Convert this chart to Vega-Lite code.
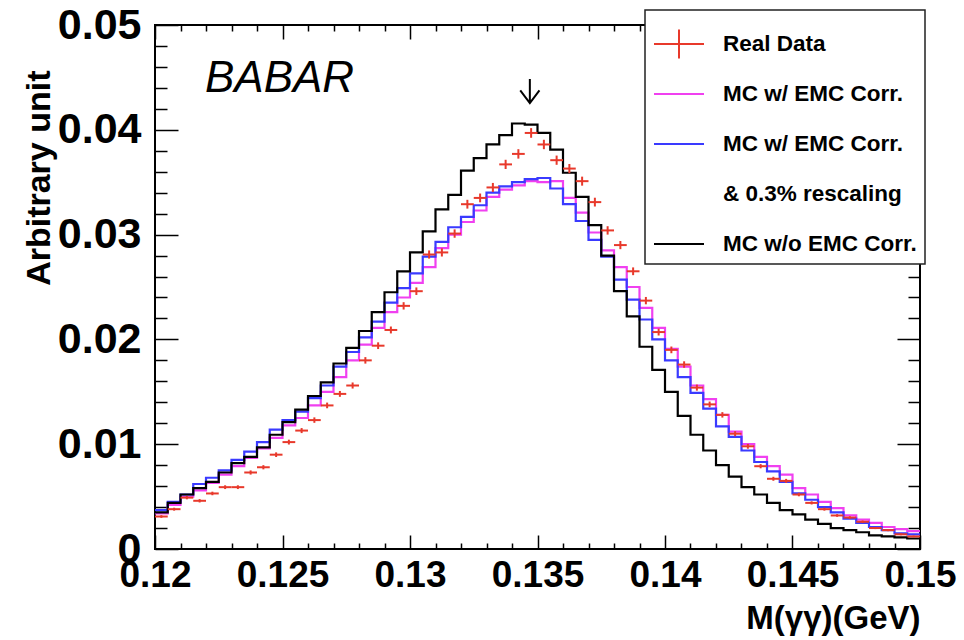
{
  "$schema": "https://vega.github.io/schema/vega-lite/v6.json",
  "width": 765,
  "height": 524,
  "autosize": {"type": "none"},
  "padding": {"left": 155, "top": 25, "right": 44, "bottom": 91},
  "background": "white",
  "data": {"values": [
    {"x0":0.12,"x1":0.1205,"xc":0.12025,"data":0.0031,"err":0.00013,"pink":0.0034,"blue":0.0037,"black":0.0035},
    {"x0":0.1205,"x1":0.121,"xc":0.12075,"data":0.0038,"err":0.00014,"pink":0.0042,"blue":0.0045,"black":0.0044},
    {"x0":0.121,"x1":0.1215,"xc":0.12125,"data":0.0049,"err":0.00016,"pink":0.0050,"blue":0.0052,"black":0.0052},
    {"x0":0.1215,"x1":0.122,"xc":0.12175,"data":0.0046,"err":0.00016,"pink":0.0056,"blue":0.0062,"black":0.0058},
    {"x0":0.122,"x1":0.1225,"xc":0.12225,"data":0.0053,"err":0.00017,"pink":0.0063,"blue":0.0068,"black":0.0064},
    {"x0":0.1225,"x1":0.123,"xc":0.12275,"data":0.0059,"err":0.00018,"pink":0.0071,"blue":0.0075,"black":0.0073},
    {"x0":0.123,"x1":0.1235,"xc":0.12325,"data":0.0059,"err":0.00018,"pink":0.0079,"blue":0.0085,"black":0.0082},
    {"x0":0.1235,"x1":0.124,"xc":0.12375,"data":0.0073,"err":0.0002,"pink":0.0087,"blue":0.0093,"black":0.0088},
    {"x0":0.124,"x1":0.1245,"xc":0.12425,"data":0.0078,"err":0.0002,"pink":0.0096,"blue":0.0102,"black":0.0097},
    {"x0":0.1245,"x1":0.125,"xc":0.12475,"data":0.0090,"err":0.00022,"pink":0.0106,"blue":0.0114,"black":0.0109},
    {"x0":0.125,"x1":0.1255,"xc":0.12525,"data":0.0102,"err":0.00023,"pink":0.0118,"blue":0.0123,"black":0.0121},
    {"x0":0.1255,"x1":0.126,"xc":0.12575,"data":0.0113,"err":0.00024,"pink":0.0125,"blue":0.0131,"black":0.0133},
    {"x0":0.126,"x1":0.1265,"xc":0.12625,"data":0.0123,"err":0.00026,"pink":0.0137,"blue":0.0144,"black":0.0146},
    {"x0":0.1265,"x1":0.127,"xc":0.12675,"data":0.0137,"err":0.00027,"pink":0.0150,"blue":0.0156,"black":0.0159},
    {"x0":0.127,"x1":0.1275,"xc":0.12725,"data":0.0148,"err":0.00028,"pink":0.0164,"blue":0.0174,"black":0.0177},
    {"x0":0.1275,"x1":0.128,"xc":0.12775,"data":0.0156,"err":0.00029,"pink":0.0180,"blue":0.0188,"black":0.0192},
    {"x0":0.128,"x1":0.1285,"xc":0.12825,"data":0.0180,"err":0.00031,"pink":0.0195,"blue":0.0202,"black":0.0208},
    {"x0":0.1285,"x1":0.129,"xc":0.12875,"data":0.0194,"err":0.00032,"pink":0.0211,"blue":0.0217,"black":0.0226},
    {"x0":0.129,"x1":0.1295,"xc":0.12925,"data":0.0209,"err":0.00033,"pink":0.0226,"blue":0.0235,"black":0.0245},
    {"x0":0.1295,"x1":0.13,"xc":0.12975,"data":0.0232,"err":0.00035,"pink":0.0240,"blue":0.0249,"black":0.0265},
    {"x0":0.13,"x1":0.1305,"xc":0.13025,"data":0.0246,"err":0.00036,"pink":0.0254,"blue":0.0263,"black":0.0283},
    {"x0":0.1305,"x1":0.131,"xc":0.13075,"data":0.0281,"err":0.00039,"pink":0.0269,"blue":0.0279,"black":0.0303},
    {"x0":0.131,"x1":0.1315,"xc":0.13125,"data":0.0283,"err":0.00039,"pink":0.0287,"blue":0.0293,"black":0.0324},
    {"x0":0.1315,"x1":0.132,"xc":0.13175,"data":0.0301,"err":0.0004,"pink":0.0300,"blue":0.0307,"black":0.0338},
    {"x0":0.132,"x1":0.1325,"xc":0.13225,"data":0.0329,"err":0.00042,"pink":0.0312,"blue":0.0317,"black":0.0361},
    {"x0":0.1325,"x1":0.133,"xc":0.13275,"data":0.0335,"err":0.00042,"pink":0.0323,"blue":0.0328,"black":0.0373},
    {"x0":0.133,"x1":0.1335,"xc":0.13325,"data":0.0345,"err":0.00043,"pink":0.0336,"blue":0.0340,"black":0.0386},
    {"x0":0.1335,"x1":0.134,"xc":0.13375,"data":0.0367,"err":0.00044,"pink":0.0343,"blue":0.0346,"black":0.0395},
    {"x0":0.134,"x1":0.1345,"xc":0.13425,"data":0.0377,"err":0.00045,"pink":0.0347,"blue":0.0350,"black":0.0406},
    {"x0":0.1345,"x1":0.135,"xc":0.13475,"data":0.0397,"err":0.00046,"pink":0.0351,"blue":0.0353,"black":0.0405},
    {"x0":0.135,"x1":0.1355,"xc":0.13525,"data":0.0386,"err":0.00045,"pink":0.0350,"blue":0.0354,"black":0.0397},
    {"x0":0.1355,"x1":0.136,"xc":0.13575,"data":0.0371,"err":0.00044,"pink":0.0351,"blue":0.0344,"black":0.0381},
    {"x0":0.136,"x1":0.1365,"xc":0.13625,"data":0.0363,"err":0.00044,"pink":0.0335,"blue":0.0329,"black":0.0359},
    {"x0":0.1365,"x1":0.137,"xc":0.13675,"data":0.0351,"err":0.00043,"pink":0.0321,"blue":0.0313,"black":0.0336},
    {"x0":0.137,"x1":0.1375,"xc":0.13725,"data":0.0331,"err":0.00042,"pink":0.0302,"blue":0.0295,"black":0.0309},
    {"x0":0.1375,"x1":0.138,"xc":0.13775,"data":0.0304,"err":0.0004,"pink":0.0285,"blue":0.0279,"black":0.0280},
    {"x0":0.138,"x1":0.1385,"xc":0.13825,"data":0.0290,"err":0.00039,"pink":0.0269,"blue":0.0257,"black":0.0246},
    {"x0":0.1385,"x1":0.139,"xc":0.13875,"data":0.0265,"err":0.00037,"pink":0.0250,"blue":0.0238,"black":0.0222},
    {"x0":0.139,"x1":0.1395,"xc":0.13925,"data":0.0237,"err":0.00035,"pink":0.0230,"blue":0.0219,"black":0.0193},
    {"x0":0.1395,"x1":0.14,"xc":0.13975,"data":0.0207,"err":0.00033,"pink":0.0211,"blue":0.0200,"black":0.0171},
    {"x0":0.14,"x1":0.1405,"xc":0.14025,"data":0.0190,"err":0.00032,"pink":0.0191,"blue":0.0180,"black":0.0150},
    {"x0":0.1405,"x1":0.141,"xc":0.14075,"data":0.0176,"err":0.00031,"pink":0.0174,"blue":0.0164,"black":0.0127},
    {"x0":0.141,"x1":0.1415,"xc":0.14125,"data":0.0154,"err":0.00029,"pink":0.0156,"blue":0.0149,"black":0.0109},
    {"x0":0.1415,"x1":0.142,"xc":0.14175,"data":0.0138,"err":0.00027,"pink":0.0143,"blue":0.0134,"black":0.0094},
    {"x0":0.142,"x1":0.1425,"xc":0.14225,"data":0.0128,"err":0.00026,"pink":0.0128,"blue":0.0117,"black":0.0080},
    {"x0":0.1425,"x1":0.143,"xc":0.14275,"data":0.0110,"err":0.00024,"pink":0.0112,"blue":0.0107,"black":0.0069},
    {"x0":0.143,"x1":0.1435,"xc":0.14325,"data":0.0098,"err":0.00023,"pink":0.0100,"blue":0.0094,"black":0.0059},
    {"x0":0.1435,"x1":0.144,"xc":0.14375,"data":0.0079,"err":0.0002,"pink":0.0088,"blue":0.0083,"black":0.0052},
    {"x0":0.144,"x1":0.1445,"xc":0.14425,"data":0.0067,"err":0.00019,"pink":0.0079,"blue":0.0074,"black":0.0044},
    {"x0":0.1445,"x1":0.145,"xc":0.14475,"data":0.0065,"err":0.00019,"pink":0.0071,"blue":0.0064,"black":0.0037},
    {"x0":0.145,"x1":0.1455,"xc":0.14525,"data":0.0052,"err":0.00017,"pink":0.0058,"blue":0.0053,"black":0.0033},
    {"x0":0.1455,"x1":0.146,"xc":0.14575,"data":0.0044,"err":0.00015,"pink":0.0052,"blue":0.0047,"black":0.0028},
    {"x0":0.146,"x1":0.1465,"xc":0.14625,"data":0.0038,"err":0.00014,"pink":0.0045,"blue":0.0040,"black":0.0024},
    {"x0":0.1465,"x1":0.147,"xc":0.14675,"data":0.0032,"err":0.00013,"pink":0.0039,"blue":0.0035,"black":0.0020},
    {"x0":0.147,"x1":0.1475,"xc":0.14725,"data":0.0030,"err":0.00013,"pink":0.0032,"blue":0.0029,"black":0.0018},
    {"x0":0.1475,"x1":0.148,"xc":0.14775,"data":0.0026,"err":0.00012,"pink":0.0028,"blue":0.0025,"black":0.0016},
    {"x0":0.148,"x1":0.1485,"xc":0.14825,"data":0.0020,"err":0.0001,"pink":0.0025,"blue":0.0021,"black":0.0013},
    {"x0":0.1485,"x1":0.149,"xc":0.14875,"data":0.0018,"err":0.0001,"pink":0.0021,"blue":0.0018,"black":0.0012},
    {"x0":0.149,"x1":0.1495,"xc":0.14925,"data":0.0014,"err":0.00009,"pink":0.0019,"blue":0.0015,"black":0.0011},
    {"x0":0.1495,"x1":0.15,"xc":0.14975,"data":0.0012,"err":0.00008,"pink":0.0017,"blue":0.0014,"black":0.0010},
    {"x0":0.15,"pink":0.0017,"blue":0.0014,"black":0.0010}
  ]},
  "resolve": {"axis": {"x": "independent", "y": "independent"}},
  "layer": [
    {
      "mark": {"type": "line", "interpolate": "step-after", "strokeWidth": 2.2},
      "encoding": {
        "x": {"field": "x0", "type": "quantitative",
          "scale": {"domain": [0.12, 0.15], "nice": false, "zero": false},
          "axis": {"orient": "bottom", "title": "M(γγ)(GeV)", "titleAnchor": "end", "titlePadding": 1,
            "labelPadding": 22, "labelFontSize": 37,
            "tickSize": {"condition": {"test": "round(datum.value*1000) % 5 == 0", "value": -14}, "value": -6},
            "values": [0.12,0.121,0.122,0.123,0.124,0.125,0.126,0.127,0.128,0.129,0.13,0.131,0.132,0.133,0.134,0.135,0.136,0.137,0.138,0.139,0.14,0.141,0.142,0.143,0.144,0.145,0.146,0.147,0.148,0.149,0.15],
            "labelExpr": "round(datum.value*1000) % 5 == 0 ? format(datum.value, '.3~f') : ''"}},
        "y": {"field": "pink", "type": "quantitative",
          "scale": {"domain": [0, 0.05], "nice": false},
          "axis": {"orient": "left", "title": "Arbitrary unit", "titleAnchor": "end", "titleAlign": "right", "titleY": 45, "titlePadding": 1, "titleFontSize": 34,
            "labelPadding": 37, "labelFontSize": 43,
            "tickSize": {"condition": {"test": "round(datum.value*1000) % 10 == 0", "value": -23}, "value": -12},
            "values": [0,0.002,0.004,0.006,0.008,0.01,0.012,0.014,0.016,0.018,0.02,0.022,0.024,0.026,0.028,0.03,0.032,0.034,0.036,0.038,0.04,0.042,0.044,0.046,0.048,0.05],
            "labelExpr": "round(datum.value*1000) % 10 == 0 ? (datum.value == 0 ? '0' : format(datum.value, '.2f')) : ''"}},
        "color": {"datum": "pink",
          "scale": {"domain": ["data", "pink", "blue", "resc", "black"],
                    "range": ["#e8392b", "#f040f0", "#3a3aff", "rgba(0,0,0,0)", "#000000"]},
          "legend": {"orient": "none", "legendX": 490, "legendY": -15, "title": null,
            "symbolType": "stroke", "symbolSize": 2500, "symbolStrokeWidth": 2,
            "labelFont": "Liberation Sans", "labelFontWeight": "bold", "labelFontSize": 22.5, "labelColor": "black",
            "labelOffset": 18, "rowPadding": 5, "padding": 8, "labelLimit": 500, "gridAlign": "all",
            "strokeColor": "#222222", "fillColor": "white",
            "labelExpr": "datum.value == 'data' ? 'Real Data' : datum.value == 'pink' ? 'MC w/ EMC Corr.' : datum.value == 'blue' ? 'MC w/ EMC Corr.' : datum.value == 'resc' ? '& 0.3% rescaling' : 'MC w/o EMC Corr.'",
            "encode": {"symbols": {"update": {"shape": {"signal": "datum.value == 'data' ? 'M-1,0H1M0,-0.58V0.58' : 'stroke'"}}}}}
        }
      }
    },
    {
      "mark": {"type": "line", "interpolate": "step-after", "strokeWidth": 2.2},
      "encoding": {
        "x": {"field": "x0", "type": "quantitative",
          "axis": {"orient": "top", "title": null, "labels": false,
            "tickSize": {"condition": {"test": "round(datum.value*1000) % 5 == 0", "value": -14}, "value": -6},
            "values": [0.12,0.121,0.122,0.123,0.124,0.125,0.126,0.127,0.128,0.129,0.13,0.131,0.132,0.133,0.134,0.135,0.136,0.137,0.138,0.139,0.14,0.141,0.142,0.143,0.144,0.145,0.146,0.147,0.148,0.149,0.15]}},
        "y": {"field": "blue", "type": "quantitative",
          "axis": {"orient": "right", "title": null, "labels": false,
            "tickSize": {"condition": {"test": "round(datum.value*1000) % 10 == 0", "value": -23}, "value": -12},
            "values": [0,0.002,0.004,0.006,0.008,0.01,0.012,0.014,0.016,0.018,0.02,0.022,0.024,0.026,0.028,0.03,0.032,0.034,0.036,0.038,0.04,0.042,0.044,0.046,0.048,0.05]}},
        "color": {"datum": "blue"}
      }
    },
    {
      "mark": {"type": "line", "interpolate": "step-after", "strokeWidth": 2.2},
      "encoding": {
        "x": {"field": "x0", "type": "quantitative", "axis": null},
        "y": {"field": "black", "type": "quantitative", "axis": null},
        "color": {"datum": "black"}
      }
    },
    {
      "transform": [{"filter": {"field": "data", "valid": true}}],
      "mark": {"type": "rule", "color": "#e8392b", "strokeWidth": 2},
      "encoding": {
        "x": {"field": "x0", "type": "quantitative", "axis": null},
        "x2": {"field": "x1"},
        "y": {"field": "data", "type": "quantitative", "axis": null}
      }
    },
    {
      "transform": [{"filter": {"field": "data", "valid": true}}],
      "mark": {"type": "errorbar", "color": "#e8392b", "thickness": 2},
      "encoding": {
        "x": {"field": "xc", "type": "quantitative", "axis": null},
        "y": {"field": "data", "type": "quantitative", "axis": null},
        "yError": {"field": "err"}
      }
    },
    {
      "data": {"values": [{"label": "arrow"}]},
      "mark": {"type": "point", "shape": "M0,-1V1M-0.8,-0.05L0,1L0.8,-0.05", "size": 576, "filled": false, "stroke": "black", "strokeWidth": 2, "opacity": 1},
      "encoding": {
        "x": {"datum": 0.1347, "type": "quantitative", "axis": null},
        "y": {"datum": 0.0437, "type": "quantitative", "axis": null}
      }
    },
    {
      "data": {"values": [{"label": "BABAR"}]},
      "mark": {"type": "text", "font": "Liberation Sans", "fontStyle": "italic", "fontSize": 44, "align": "left", "baseline": "alphabetic", "color": "black"},
      "encoding": {
        "x": {"datum": 0.12196, "type": "quantitative", "axis": null},
        "y": {"datum": 0.0436, "type": "quantitative", "axis": null},
        "text": {"field": "label"}
      }
    }
  ],
  "config": {
    "view": {"stroke": "black", "strokeWidth": 2},
    "axis": {"labelFont": "Liberation Sans", "labelFontWeight": "bold", "labelFontSize": 32, "labelColor": "black",
      "titleFont": "Liberation Sans", "titleFontWeight": "bold", "titleFontSize": 33, "titleColor": "black",
      "domain": false, "grid": false, "ticks": true, "tickColor": "black", "tickWidth": 1.5,
      "labelOverlap": false, "labelFlush": false, "labelBound": false},
    "legend": {"strokeWidth": 1.5}
  }
}
